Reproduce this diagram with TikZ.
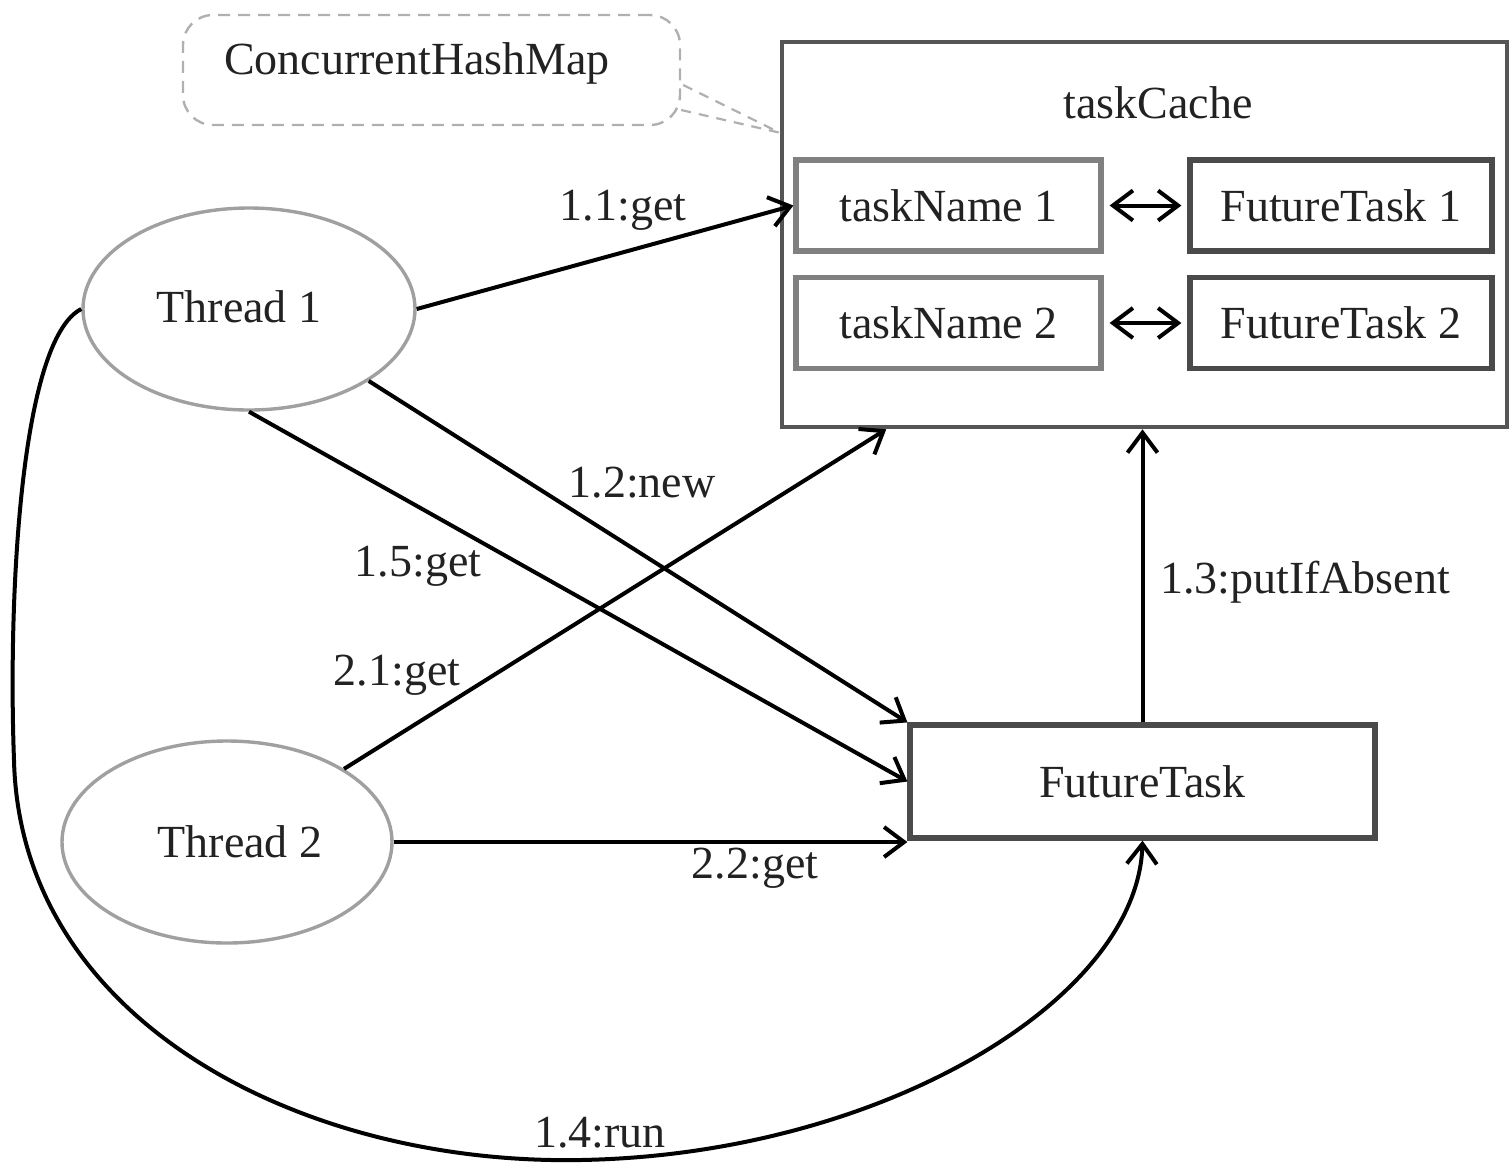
\documentclass[tikz,border=0pt]{standalone}
\usepackage{fontspec}
\setmainfont{Liberation Serif}
\usetikzlibrary{arrows.meta,shapes.geometric,calc}
\definecolor{txt}{HTML}{222222}
\definecolor{cachec}{HTML}{555555}
\definecolor{namec}{HTML}{808080}
\definecolor{ftc}{HTML}{4A4A4A}
\definecolor{ellc}{HTML}{A0A0A0}
\definecolor{callc}{HTML}{B0B0B0}
\tikzset{
  lbl/.style={font=\fontsize{23}{27}\selectfont, text=txt, inner sep=0pt},
  namebox/.style={draw=namec, line width=2.6pt, minimum width=152.5pt, minimum height=45.5pt, lbl},
  ftbox/.style={draw=ftc, line width=2.6pt, minimum width=151pt, minimum height=45.5pt, lbl},
  thr/.style={ellipse, draw=ellc, line width=1.7pt, minimum width=166pt, minimum height=101pt, inner sep=0pt},
  tip/.style={Straight Barb[length=10pt,width=15pt,line width=2pt]},
  conn/.style={draw=black, line width=2pt, -{Straight Barb[length=10pt,width=15pt,line width=2pt]}},
  dconn/.style={draw=black, line width=2pt, {Straight Barb[length=10pt,width=15pt,line width=2pt]}-{Straight Barb[length=10pt,width=15pt,line width=2pt]}, shorten <=3pt, shorten >=3pt},
  tail/.style={callc, dashed, dash pattern=on 5pt off 4pt, line width=1.1pt},
}
\begin{document}
\begin{tikzpicture}[x=0.5pt,y=-0.5pt]
\useasboundingbox (0,0) rectangle (1509,1164);
% callout
\node[draw=callc, dashed, dash pattern=on 6pt off 4pt, line width=1.2pt, rounded corners=15pt,
      minimum width=248.5pt, minimum height=55pt] (cb) at (431.5,70) {};
\node[lbl] (cbl) at (417,63) {ConcurrentHashMap};
% task cache
\node[draw=cachec, line width=2.3pt, minimum width=362.5pt, minimum height=192.5pt] (tc) at (1144.5,234.5) {};
\node[lbl] (tcl) at (1158,103) {taskCache};
\coordinate (tailend) at ($(tc.north west)+(0,93)$);
\draw[tail] ($(cb.east)+(2,15)$) -- (tailend);
\draw[tail] ($(cb.east)+(0,40)$) -- (tailend);
\node[namebox] (tn1) at (948.5,205.5) {taskName 1};
\node[ftbox] (ft1) at (1341,205.5) {FutureTask 1};
\node[namebox] (tn2) at (948.5,323) {taskName 2};
\node[ftbox] (ft2) at (1341,323) {FutureTask 2};
\draw[dconn] (tn1.east) -- (ft1.west);
\draw[dconn] (tn2.east) -- (ft2.west);
% threads
\node[thr] (t1) at (249,309) {};
\node[lbl] (t1l) at (239,307) {Thread 1};
\node[thr, minimum width=165pt] (t2) at (227,842) {};
\node[lbl] (t2l) at (240,842) {Thread 2};
% future task
\node[draw=ftc, line width=2.6pt, minimum width=232.5pt, minimum height=56.5pt, lbl] (ft) at (1142.5,781.5) {FutureTask};
% connectors
\draw[conn] (t1.east) -- (tn1.west);
\node[lbl] (l11) at (623,210) {1.1:get};
\draw[conn] (t1.-31) -- (ft.north west);
\node[lbl] (l12) at (642,483) {1.2:new};
\draw[conn] (t1.south) -- (ft.west);
\node[lbl] (l15) at (418,566) {1.5:get};
\draw[conn] (t2.32) -- ($(tc.south west)!0.146!(tc.south east)$);
\node[lbl] (l21) at (397,675) {2.1:get};
\draw[conn] (t2.east) -- (t2.east -| ft.west);
\node[lbl] (l22) at (755,868) {2.2:get};
\draw[conn] (ft.north) -- (ft.north |- tc.south);
\node[lbl] (l13) at (1305,582) {1.3:putIfAbsent};
\draw[conn] (t1.west) .. controls (20,340) and (8,600) .. (14,760)
   .. controls (20,1020) and (300,1165) .. (580,1160)
   .. controls (880,1155) and (1138,1000) .. (ft.south);
\node[lbl] (l14) at (600,1133) {1.4:run};
\end{tikzpicture}
\end{document}
